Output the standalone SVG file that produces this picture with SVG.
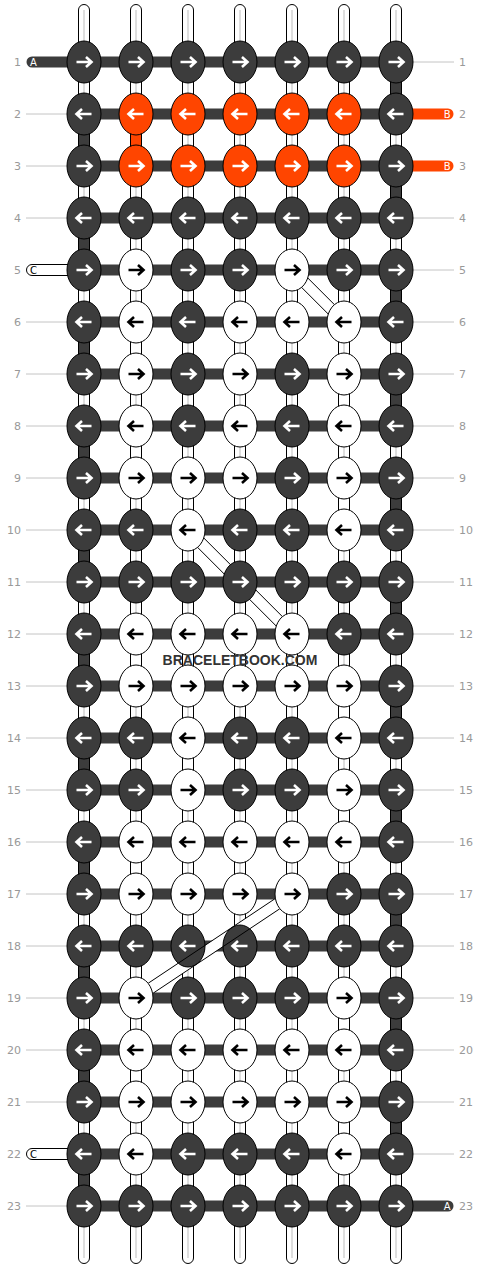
<svg xmlns="http://www.w3.org/2000/svg" xmlns:xlink="http://www.w3.org/1999/xlink" width="480" height="1268" viewBox="0 0 480 1268">
<style>
.d{fill:#3c3c3c;stroke:#000;stroke-width:1}
.o{fill:#ff4500;stroke:#000;stroke-width:1}
.l{fill:#fff;stroke:#000;stroke-width:1}
.aw{fill:none;stroke:#fff;stroke-width:2.6}
.ab{fill:none;stroke:#000;stroke-width:2.6}
.base{fill:#fff;stroke:#000;stroke-width:1}
.mid{stroke:#bdbdbd;stroke-width:1}
.seg{stroke:#000;stroke-width:1}
.bar{fill:#3c3c3c}
.gl{stroke:#c4c4c4;stroke-width:1}
.band{fill:#fff;stroke:none}
.bl{stroke:#000;stroke-width:1}
.num{font-family:"DejaVu Sans",Verdana,sans-serif;font-size:11px;fill:#999}
.cap{font-family:"DejaVu Sans",Verdana,sans-serif;font-size:10px}
.wm{font-family:"Liberation Sans",Arial,sans-serif;font-size:14px;font-weight:bold;fill:#333}
</style>
<defs>
<path id="aR" d="M-7.5,0H7.5M2,-5L7.5,0L2,5"/>
<path id="aL" d="M7.5,0H-7.5M-2,-5L-7.5,0L-2,5"/>
<g id="dR"><ellipse class="d" rx="17" ry="21"/><use href="#aR" class="aw"/></g>
<g id="dL"><ellipse class="d" rx="17" ry="21"/><use href="#aL" class="aw"/></g>
<g id="oR"><ellipse class="o" rx="17" ry="21"/><use href="#aR" class="aw"/></g>
<g id="oL"><ellipse class="o" rx="17" ry="21"/><use href="#aL" class="aw"/></g>
<g id="lR"><ellipse class="l" rx="17" ry="21"/><use href="#aR" class="ab"/></g>
<g id="lL"><ellipse class="l" rx="17" ry="21"/><use href="#aL" class="ab"/></g>
<mask id="endKnots" maskUnits="userSpaceOnUse" x="0" y="0" width="480" height="1268">
<rect width="480" height="1268" fill="#fff"/>
<ellipse cx="292" cy="894" rx="17.5" ry="21.5" fill="#000"/>
<ellipse cx="136" cy="998" rx="17.5" ry="21.5" fill="#000"/>
</mask>
</defs>
<rect width="480" height="1268" fill="#fff"/>
<g id="connectors">
<g id="base-strings">
<rect class="base" x="78.5" y="4.5" width="11" height="1259" rx="5.5"/>
<rect class="base" x="130.5" y="4.5" width="11" height="1259" rx="5.5"/>
<rect class="base" x="182.5" y="4.5" width="11" height="1259" rx="5.5"/>
<rect class="base" x="234.5" y="4.5" width="11" height="1259" rx="5.5"/>
<rect class="base" x="286.5" y="4.5" width="11" height="1259" rx="5.5"/>
<rect class="base" x="338.5" y="4.5" width="11" height="1259" rx="5.5"/>
<rect class="base" x="390.5" y="4.5" width="11" height="1259" rx="5.5"/>
<path class="mid" d="M84,10V1258M136,10V1258M188,10V1258M240,10V1258M292,10V1258M344,10V1258M396,10V1258"/>
</g>
<g id="edge-segments" fill="#3c3c3c">
<rect class="seg" x="78.5" y="130" width="11" height="20"/>
<rect class="seg" x="78.5" y="234" width="11" height="20"/>
<rect class="seg" x="78.5" y="338" width="11" height="20"/>
<rect class="seg" x="78.5" y="442" width="11" height="20"/>
<rect class="seg" x="78.5" y="546" width="11" height="20"/>
<rect class="seg" x="78.5" y="650" width="11" height="20"/>
<rect class="seg" x="78.5" y="754" width="11" height="20"/>
<rect class="seg" x="78.5" y="858" width="11" height="20"/>
<rect class="seg" x="78.5" y="962" width="11" height="20"/>
<rect class="seg" x="78.5" y="1066" width="11" height="20"/>
<rect class="seg" x="78.5" y="1170" width="11" height="20"/>
<rect class="seg" x="390.5" y="78" width="11" height="20"/>
<rect class="seg" x="390.5" y="182" width="11" height="20"/>
<rect class="seg" x="390.5" y="286" width="11" height="20"/>
<rect class="seg" x="390.5" y="390" width="11" height="20"/>
<rect class="seg" x="390.5" y="494" width="11" height="20"/>
<rect class="seg" x="390.5" y="598" width="11" height="20"/>
<rect class="seg" x="390.5" y="702" width="11" height="20"/>
<rect class="seg" x="390.5" y="806" width="11" height="20"/>
<rect class="seg" x="390.5" y="910" width="11" height="20"/>
<rect class="seg" x="390.5" y="1014" width="11" height="20"/>
<rect class="seg" x="390.5" y="1118" width="11" height="20"/>
</g>
<g id="b-turn" fill="#ff4500">
<rect class="seg" x="130.5" y="130" width="11" height="20"/>
</g>
<g id="c-turns" fill="#fff">
<rect class="seg" x="130.5" y="338" width="11" height="20"/>
<rect class="seg" x="130.5" y="442" width="11" height="20"/>
<rect class="seg" x="130.5" y="650" width="11" height="20"/>
<rect class="seg" x="130.5" y="858" width="11" height="20"/>
<rect class="seg" x="130.5" y="1066" width="11" height="20"/>
<rect class="seg" x="338.5" y="390" width="11" height="20"/>
<rect class="seg" x="338.5" y="494" width="11" height="20"/>
<rect class="seg" x="338.5" y="702" width="11" height="20"/>
<rect class="seg" x="338.5" y="806" width="11" height="20"/>
<rect class="seg" x="338.5" y="1014" width="11" height="20"/>
<rect class="seg" x="338.5" y="1118" width="11" height="20"/>
<rect class="seg" x="182.5" y="754" width="11" height="20"/>
</g>
<path id="row-bars" class="bar" d="M84,56.5h312v11h-312zM84,108.5h312v11h-312zM84,160.5h312v11h-312zM84,212.5h312v11h-312zM84,264.5h312v11h-312zM84,316.5h312v11h-312zM84,368.5h312v11h-312zM84,420.5h312v11h-312zM84,472.5h312v11h-312zM84,524.5h312v11h-312zM84,576.5h312v11h-312zM84,628.5h312v11h-312zM84,680.5h312v11h-312zM84,732.5h312v11h-312zM84,784.5h312v11h-312zM84,836.5h312v11h-312zM84,888.5h312v11h-312zM84,940.5h312v11h-312zM84,992.5h312v11h-312zM84,1044.5h312v11h-312zM84,1096.5h312v11h-312zM84,1148.5h312v11h-312zM84,1200.5h312v11h-312z"/>
<g id="side-strings">
<rect x="26.5" y="56.5" width="55" height="11" rx="5.5" fill="#3c3c3c"/>
<rect x="26.5" y="264.5" width="55" height="11" rx="5.5" fill="#fff" stroke="#000"/>
<rect x="26.5" y="1148.5" width="55" height="11" rx="5.5" fill="#fff" stroke="#000"/>
<rect x="398" y="108.5" width="55.5" height="11" rx="5.5" fill="#ff4500"/>
<rect x="398" y="160.5" width="55.5" height="11" rx="5.5" fill="#ff4500"/>
<rect x="398" y="1200.5" width="55.5" height="11" rx="5.5" fill="#3c3c3c"/>
</g>
<path id="label-lines" class="gl" d="M26,114H67M26,166H67M26,218H67M26,322H67M26,374H67M26,426H67M26,478H67M26,530H67M26,582H67M26,634H67M26,686H67M26,738H67M26,790H67M26,842H67M26,894H67M26,946H67M26,998H67M26,1050H67M26,1102H67M26,1206H67M413,62H454M413,218H454M413,270H454M413,322H454M413,374H454M413,426H454M413,478H454M413,530H454M413,582H454M413,634H454M413,686H454M413,738H454M413,790H454M413,842H454M413,894H454M413,946H454M413,998H454M413,1050H454M413,1102H454M413,1154H454"/>
<g id="hidden-c">
<polygon class="band" points="295.9,266.1 347.9,318.1 340.1,325.9 288.1,273.9"/>
<path class="bl" d="M295.9,266.1L347.9,318.1M288.1,273.9L340.1,325.9"/>
<polygon class="band" points="191.9,526.1 295.9,630.1 288.1,637.9 184.1,533.9"/>
<path class="bl" d="M191.9,526.1L295.9,630.1M184.1,533.9L288.1,637.9"/>
<polygon class="band" points="295.05,898.58 139.05,1002.58 132.95,993.42 288.95,889.42"/>
</g>
</g>
<g id="knots">
<g id="k1_1"><use href="#dR" x="84" y="62"/></g><g id="k1_2"><use href="#dR" x="136" y="62"/></g><g id="k1_3"><use href="#dR" x="188" y="62"/></g><g id="k1_4"><use href="#dR" x="240" y="62"/></g><g id="k1_5"><use href="#dR" x="292" y="62"/></g><g id="k1_6"><use href="#dR" x="344" y="62"/></g><g id="k1_7"><use href="#dR" x="396" y="62"/></g>
<g id="k2_1"><use href="#dL" x="84" y="114"/></g><g id="k2_2"><use href="#oL" x="136" y="114"/></g><g id="k2_3"><use href="#oL" x="188" y="114"/></g><g id="k2_4"><use href="#oL" x="240" y="114"/></g><g id="k2_5"><use href="#oL" x="292" y="114"/></g><g id="k2_6"><use href="#oL" x="344" y="114"/></g><g id="k2_7"><use href="#dL" x="396" y="114"/></g>
<g id="k3_1"><use href="#dR" x="84" y="166"/></g><g id="k3_2"><use href="#oR" x="136" y="166"/></g><g id="k3_3"><use href="#oR" x="188" y="166"/></g><g id="k3_4"><use href="#oR" x="240" y="166"/></g><g id="k3_5"><use href="#oR" x="292" y="166"/></g><g id="k3_6"><use href="#oR" x="344" y="166"/></g><g id="k3_7"><use href="#dR" x="396" y="166"/></g>
<g id="k4_1"><use href="#dL" x="84" y="218"/></g><g id="k4_2"><use href="#dL" x="136" y="218"/></g><g id="k4_3"><use href="#dL" x="188" y="218"/></g><g id="k4_4"><use href="#dL" x="240" y="218"/></g><g id="k4_5"><use href="#dL" x="292" y="218"/></g><g id="k4_6"><use href="#dL" x="344" y="218"/></g><g id="k4_7"><use href="#dL" x="396" y="218"/></g>
<g id="k5_1"><use href="#dR" x="84" y="270"/></g><g id="k5_2"><use href="#lR" x="136" y="270"/></g><g id="k5_3"><use href="#dR" x="188" y="270"/></g><g id="k5_4"><use href="#dR" x="240" y="270"/></g><g id="k5_5"><use href="#lR" x="292" y="270"/></g><g id="k5_6"><use href="#dR" x="344" y="270"/></g><g id="k5_7"><use href="#dR" x="396" y="270"/></g>
<g id="k6_1"><use href="#dL" x="84" y="322"/></g><g id="k6_2"><use href="#lL" x="136" y="322"/></g><g id="k6_3"><use href="#dL" x="188" y="322"/></g><g id="k6_4"><use href="#lL" x="240" y="322"/></g><g id="k6_5"><use href="#lL" x="292" y="322"/></g><g id="k6_6"><use href="#lL" x="344" y="322"/></g><g id="k6_7"><use href="#dL" x="396" y="322"/></g>
<g id="k7_1"><use href="#dR" x="84" y="374"/></g><g id="k7_2"><use href="#lR" x="136" y="374"/></g><g id="k7_3"><use href="#dR" x="188" y="374"/></g><g id="k7_4"><use href="#lR" x="240" y="374"/></g><g id="k7_5"><use href="#dR" x="292" y="374"/></g><g id="k7_6"><use href="#lR" x="344" y="374"/></g><g id="k7_7"><use href="#dR" x="396" y="374"/></g>
<g id="k8_1"><use href="#dL" x="84" y="426"/></g><g id="k8_2"><use href="#lL" x="136" y="426"/></g><g id="k8_3"><use href="#dL" x="188" y="426"/></g><g id="k8_4"><use href="#lL" x="240" y="426"/></g><g id="k8_5"><use href="#dL" x="292" y="426"/></g><g id="k8_6"><use href="#lL" x="344" y="426"/></g><g id="k8_7"><use href="#dL" x="396" y="426"/></g>
<g id="k9_1"><use href="#dR" x="84" y="478"/></g><g id="k9_2"><use href="#lR" x="136" y="478"/></g><g id="k9_3"><use href="#lR" x="188" y="478"/></g><g id="k9_4"><use href="#lR" x="240" y="478"/></g><g id="k9_5"><use href="#dR" x="292" y="478"/></g><g id="k9_6"><use href="#lR" x="344" y="478"/></g><g id="k9_7"><use href="#dR" x="396" y="478"/></g>
<g id="k10_1"><use href="#dL" x="84" y="530"/></g><g id="k10_2"><use href="#dL" x="136" y="530"/></g><g id="k10_3"><use href="#lL" x="188" y="530"/></g><g id="k10_4"><use href="#dL" x="240" y="530"/></g><g id="k10_5"><use href="#dL" x="292" y="530"/></g><g id="k10_6"><use href="#lL" x="344" y="530"/></g><g id="k10_7"><use href="#dL" x="396" y="530"/></g>
<g id="k11_1"><use href="#dR" x="84" y="582"/></g><g id="k11_2"><use href="#dR" x="136" y="582"/></g><g id="k11_3"><use href="#dR" x="188" y="582"/></g><g id="k11_4"><use href="#dR" x="240" y="582"/></g><g id="k11_5"><use href="#dR" x="292" y="582"/></g><g id="k11_6"><use href="#dR" x="344" y="582"/></g><g id="k11_7"><use href="#dR" x="396" y="582"/></g>
<g id="k12_1"><use href="#dL" x="84" y="634"/></g><g id="k12_2"><use href="#lL" x="136" y="634"/></g><g id="k12_3"><use href="#lL" x="188" y="634"/></g><g id="k12_4"><use href="#lL" x="240" y="634"/></g><g id="k12_5"><use href="#lL" x="292" y="634"/></g><g id="k12_6"><use href="#dL" x="344" y="634"/></g><g id="k12_7"><use href="#dL" x="396" y="634"/></g>
<g id="k13_1"><use href="#dR" x="84" y="686"/></g><g id="k13_2"><use href="#lR" x="136" y="686"/></g><g id="k13_3"><use href="#lR" x="188" y="686"/></g><g id="k13_4"><use href="#lR" x="240" y="686"/></g><g id="k13_5"><use href="#lR" x="292" y="686"/></g><g id="k13_6"><use href="#lR" x="344" y="686"/></g><g id="k13_7"><use href="#dR" x="396" y="686"/></g>
<g id="k14_1"><use href="#dL" x="84" y="738"/></g><g id="k14_2"><use href="#dL" x="136" y="738"/></g><g id="k14_3"><use href="#lL" x="188" y="738"/></g><g id="k14_4"><use href="#dL" x="240" y="738"/></g><g id="k14_5"><use href="#dL" x="292" y="738"/></g><g id="k14_6"><use href="#lL" x="344" y="738"/></g><g id="k14_7"><use href="#dL" x="396" y="738"/></g>
<g id="k15_1"><use href="#dR" x="84" y="790"/></g><g id="k15_2"><use href="#dR" x="136" y="790"/></g><g id="k15_3"><use href="#lR" x="188" y="790"/></g><g id="k15_4"><use href="#dR" x="240" y="790"/></g><g id="k15_5"><use href="#dR" x="292" y="790"/></g><g id="k15_6"><use href="#lR" x="344" y="790"/></g><g id="k15_7"><use href="#dR" x="396" y="790"/></g>
<g id="k16_1"><use href="#dL" x="84" y="842"/></g><g id="k16_2"><use href="#lL" x="136" y="842"/></g><g id="k16_3"><use href="#lL" x="188" y="842"/></g><g id="k16_4"><use href="#lL" x="240" y="842"/></g><g id="k16_5"><use href="#lL" x="292" y="842"/></g><g id="k16_6"><use href="#lL" x="344" y="842"/></g><g id="k16_7"><use href="#dL" x="396" y="842"/></g>
<g id="k17_1"><use href="#dR" x="84" y="894"/></g><g id="k17_2"><use href="#lR" x="136" y="894"/></g><g id="k17_3"><use href="#lR" x="188" y="894"/></g><g id="k17_4"><use href="#lR" x="240" y="894"/></g><g id="k17_5"><use href="#lR" x="292" y="894"/></g><g id="k17_6"><use href="#dR" x="344" y="894"/></g><g id="k17_7"><use href="#dR" x="396" y="894"/></g>
<g id="k18_1"><use href="#dL" x="84" y="946"/></g><g id="k18_2"><use href="#dL" x="136" y="946"/></g><g id="k18_3"><use href="#dL" x="188" y="946"/></g><g id="k18_4"><use href="#dL" x="240" y="946"/></g><g id="k18_5"><use href="#dL" x="292" y="946"/></g><g id="k18_6"><use href="#dL" x="344" y="946"/></g><g id="k18_7"><use href="#dL" x="396" y="946"/></g>
<g id="k19_1"><use href="#dR" x="84" y="998"/></g><g id="k19_2"><use href="#lR" x="136" y="998"/></g><g id="k19_3"><use href="#dR" x="188" y="998"/></g><g id="k19_4"><use href="#dR" x="240" y="998"/></g><g id="k19_5"><use href="#dR" x="292" y="998"/></g><g id="k19_6"><use href="#lR" x="344" y="998"/></g><g id="k19_7"><use href="#dR" x="396" y="998"/></g>
<g id="k20_1"><use href="#dL" x="84" y="1050"/></g><g id="k20_2"><use href="#lL" x="136" y="1050"/></g><g id="k20_3"><use href="#lL" x="188" y="1050"/></g><g id="k20_4"><use href="#lL" x="240" y="1050"/></g><g id="k20_5"><use href="#lL" x="292" y="1050"/></g><g id="k20_6"><use href="#lL" x="344" y="1050"/></g><g id="k20_7"><use href="#dL" x="396" y="1050"/></g>
<g id="k21_1"><use href="#dR" x="84" y="1102"/></g><g id="k21_2"><use href="#lR" x="136" y="1102"/></g><g id="k21_3"><use href="#lR" x="188" y="1102"/></g><g id="k21_4"><use href="#lR" x="240" y="1102"/></g><g id="k21_5"><use href="#lR" x="292" y="1102"/></g><g id="k21_6"><use href="#lR" x="344" y="1102"/></g><g id="k21_7"><use href="#dR" x="396" y="1102"/></g>
<g id="k22_1"><use href="#dL" x="84" y="1154"/></g><g id="k22_2"><use href="#lL" x="136" y="1154"/></g><g id="k22_3"><use href="#dL" x="188" y="1154"/></g><g id="k22_4"><use href="#dL" x="240" y="1154"/></g><g id="k22_5"><use href="#dL" x="292" y="1154"/></g><g id="k22_6"><use href="#lL" x="344" y="1154"/></g><g id="k22_7"><use href="#dL" x="396" y="1154"/></g>
<g id="k23_1"><use href="#dR" x="84" y="1206"/></g><g id="k23_2"><use href="#dR" x="136" y="1206"/></g><g id="k23_3"><use href="#dR" x="188" y="1206"/></g><g id="k23_4"><use href="#dR" x="240" y="1206"/></g><g id="k23_5"><use href="#dR" x="292" y="1206"/></g><g id="k23_6"><use href="#dR" x="344" y="1206"/></g><g id="k23_7"><use href="#dR" x="396" y="1206"/></g>
</g>
<g id="connectors-over" mask="url(#endKnots)">
<path class="bl" d="M295.05,898.58L139.05,1002.58M288.95,889.42L132.95,993.42"/>
</g>
<g id="string-labels">
<text class="cap" x="30" y="65.6" fill="#fff">A</text>
<text class="cap" x="30" y="273.6" fill="#000">C</text>
<text class="cap" x="30" y="1157.6" fill="#000">C</text>
<text class="cap" x="450.5" y="117.6" fill="#fff" text-anchor="end">B</text>
<text class="cap" x="450.5" y="169.6" fill="#fff" text-anchor="end">B</text>
<text class="cap" x="450.5" y="1209.6" fill="#fff" text-anchor="end">A</text>
</g>
<g id="row-numbers-left" class="num" text-anchor="end">
<text x="21" y="66">1</text><text x="21" y="118">2</text><text x="21" y="170">3</text><text x="21" y="222">4</text><text x="21" y="274">5</text><text x="21" y="326">6</text><text x="21" y="378">7</text><text x="21" y="430">8</text><text x="21" y="482">9</text><text x="21" y="534">10</text><text x="21" y="586">11</text><text x="21" y="638">12</text><text x="21" y="690">13</text><text x="21" y="742">14</text><text x="21" y="794">15</text><text x="21" y="846">16</text><text x="21" y="898">17</text><text x="21" y="950">18</text><text x="21" y="1002">19</text><text x="21" y="1054">20</text><text x="21" y="1106">21</text><text x="21" y="1158">22</text><text x="21" y="1210">23</text>
</g>
<g id="row-numbers-right" class="num">
<text x="459" y="66">1</text><text x="459" y="118">2</text><text x="459" y="170">3</text><text x="459" y="222">4</text><text x="459" y="274">5</text><text x="459" y="326">6</text><text x="459" y="378">7</text><text x="459" y="430">8</text><text x="459" y="482">9</text><text x="459" y="534">10</text><text x="459" y="586">11</text><text x="459" y="638">12</text><text x="459" y="690">13</text><text x="459" y="742">14</text><text x="459" y="794">15</text><text x="459" y="846">16</text><text x="459" y="898">17</text><text x="459" y="950">18</text><text x="459" y="1002">19</text><text x="459" y="1054">20</text><text x="459" y="1106">21</text><text x="459" y="1158">22</text><text x="459" y="1210">23</text>
</g>
<text id="watermark" class="wm" x="240" y="665" text-anchor="middle">BRACELETBOOK.COM</text>
</svg>
